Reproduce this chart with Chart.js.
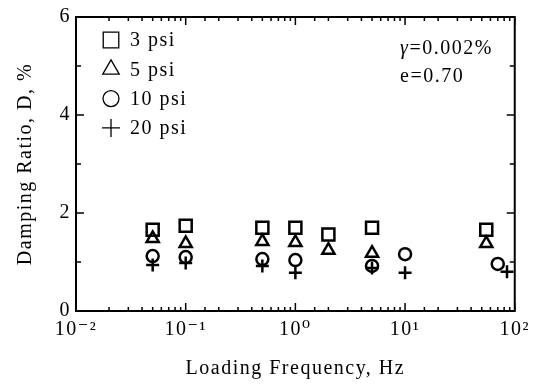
<!DOCTYPE html>
<html>
<head>
<meta charset="utf-8">
<script src="https://cdn.jsdelivr.net/npm/chart.js@4/dist/chart.umd.min.js"></script>
<style>
html, body { margin: 0; padding: 0; background: #fff; }
#wrap { width: 537px; height: 384px; }
</style>
</head>
<body>
<div id="wrap"><canvas id="chart" width="537" height="384"></canvas></div>
<script>
// data
const seriesLabels = ['3 psi', '5 psi', '10 psi', '20 psi'];
const freq3 = [0.05, 0.1, 0.5, 1, 2, 5, 55];
const damp3 = [1.66, 1.74, 1.70, 1.70, 1.56, 1.70, 1.66];
const freq5 = [0.05, 0.1, 0.5, 1, 2, 5, 55];
const damp5 = [1.48, 1.38, 1.42, 1.40, 1.24, 1.18, 1.38];
const freq10 = [0.05, 0.1, 0.5, 1, 5, 10, 70];
const damp10 = [1.12, 1.10, 1.06, 1.04, 0.92, 1.16, 0.96];
const freq20 = [0.05, 0.1, 0.5, 1, 5, 10, 85];
const damp20 = [0.94, 0.98, 0.92, 0.78, 0.88, 0.78, 0.80];
const xTickValues = [0.01, 0.1, 1, 10, 100];
const xTickLabels = ['10⁻²', '10⁻¹', '10⁰', '10¹', '10²'];
const yTickValues = [0, 2, 4, 6];
const notes = ['γ', '=0.002%', 'e=0.70'];

const FONT = '"Liberation Serif", "DejaVu Serif", serif';

function toPoints(xs, ys) {
    return xs.map((x, i) => ({ x: x, y: ys[i] }));
}

const styles = [
    { pointStyle: 'rect', radius: 8.5, legendRadius: 11 },
    { pointStyle: 'triangle', radius: 7, legendRadius: 9.5 },
    { pointStyle: 'circle', radius: 6, legendRadius: 8 },
    { pointStyle: 'cross', radius: 6.5, legendRadius: 9 }
];
const allData = [[freq3, damp3], [freq5, damp5], [freq10, damp10], [freq20, damp20]];

const datasets = allData.map((d, i) => ({
    label: seriesLabels[i],
    data: toPoints(d[0], d[1]),
    showLine: false,
    pointStyle: styles[i].pointStyle,
    pointRadius: styles[i].radius,
    pointHoverRadius: styles[i].radius,
    borderColor: '#000',
    backgroundColor: 'rgba(0,0,0,0)',
    pointBorderWidth: 2.5
}));

// slightly spaced lettering like the scanned figure
const spacing = {
    id: 'spacing',
    beforeUpdate(chart) { chart.ctx.letterSpacing = '1.5px'; },
    beforeDraw(chart) { chart.ctx.letterSpacing = '1.5px'; }
};

// inward ticks, frame, legend and notes
const decorations = {
    id: 'decorations',
    afterDraw(chart) {
        const ctx = chart.ctx;
        const a = chart.chartArea;
        const xs = chart.scales.x;
        const ys = chart.scales.y;
        ctx.save();
        ctx.strokeStyle = '#000';
        ctx.lineWidth = 2;
        ctx.strokeRect(a.left, a.top, a.right - a.left, a.bottom - a.top);

        ctx.lineWidth = 1.5;
        xs.ticks.forEach(t => {
            const px = xs.getPixelForValue(t.value);
            const major = xTickValues.some(v => Math.abs(v - t.value) < v * 1e-6);
            const len = major ? 8 : 4;
            ctx.beginPath();
            ctx.moveTo(px, a.bottom); ctx.lineTo(px, a.bottom - len);
            ctx.moveTo(px, a.top); ctx.lineTo(px, a.top + len);
            ctx.stroke();
        });
        ys.ticks.forEach(t => {
            const py = ys.getPixelForValue(t.value);
            const major = yTickValues.includes(t.value);
            const len = major ? 8 : 5;
            ctx.beginPath();
            ctx.moveTo(a.left, py); ctx.lineTo(a.left + len, py);
            ctx.moveTo(a.right, py); ctx.lineTo(a.right - len, py);
            ctx.stroke();
        });

        // legend
        ctx.font = '20px ' + FONT;
        ctx.textBaseline = 'middle';
        ctx.letterSpacing = '1.5px';
        chart.data.datasets.forEach((ds, i) => {
            const y = 40 + i * 29.3;
            ctx.lineWidth = 1.3;
            ctx.fillStyle = 'rgba(0,0,0,0)';
            Chart.helpers.drawPoint(ctx, {
                pointStyle: ds.pointStyle,
                radius: styles[i].legendRadius,
                borderWidth: 1.3
            }, 111, y);
            ctx.fillStyle = '#000';
            ctx.fillText(ds.label, 130, y + 1);
        });

        // notes
        ctx.fillStyle = '#000';
        ctx.font = 'italic 20px ' + FONT;
        ctx.fillText(notes[0], 400, 49);
        const gw = ctx.measureText(notes[0]).width;
        ctx.font = '20px ' + FONT;
        ctx.fillText(notes[1], 400 + gw, 49);
        ctx.fillText(notes[2], 400, 77);
        ctx.restore();
    }
};

new Chart(document.getElementById('chart'), {
    type: 'scatter',
    data: { datasets: datasets },
    plugins: [spacing, decorations],
    options: {
        responsive: false,
        animation: false,
        layout: { padding: { top: 12, right: 16, left: 0, bottom: 0 } },
        plugins: {
            legend: { display: false },
            tooltip: { enabled: false }
        },
        scales: {
            x: {
                type: 'logarithmic',
                min: 0.01,
                max: 100,
                grid: { display: false, drawTicks: false },
                border: { display: true, color: '#000', width: 2 },
                afterFit: scale => { scale.height = 73; },
                ticks: {
                    autoSkip: false,
                    maxRotation: 0,
                    padding: 7,
                    color: '#000',
                    font: { family: FONT, size: 20 },
                    callback: function (value) {
                        const i = xTickValues.findIndex(v => Math.abs(v - value) < v * 1e-6);
                        return i >= 0 ? xTickLabels[i] : '';
                    }
                },
                title: {
                    display: true,
                    text: 'Loading Frequency, Hz',
                    color: '#000',
                    font: { family: FONT, size: 20 },
                    padding: { top: 0, bottom: 3 }
                }
            },
            y: {
                min: 0,
                max: 6,
                grid: { display: false, drawTicks: false },
                border: { display: true, color: '#000', width: 2 },
                afterFit: scale => { scale.width = 76; },
                ticks: {
                    stepSize: 1,
                    padding: 5,
                    color: '#000',
                    font: { family: FONT, size: 20 },
                    callback: value => yTickValues.includes(value) ? String(value) : ''
                },
                title: {
                    display: true,
                    text: 'Damping Ratio, D, %',
                    color: '#000',
                    font: { family: FONT, size: 20 },
                    padding: { top: 14, bottom: 0 }
                }
            }
        }
    }
});
</script>
</body>
</html>
